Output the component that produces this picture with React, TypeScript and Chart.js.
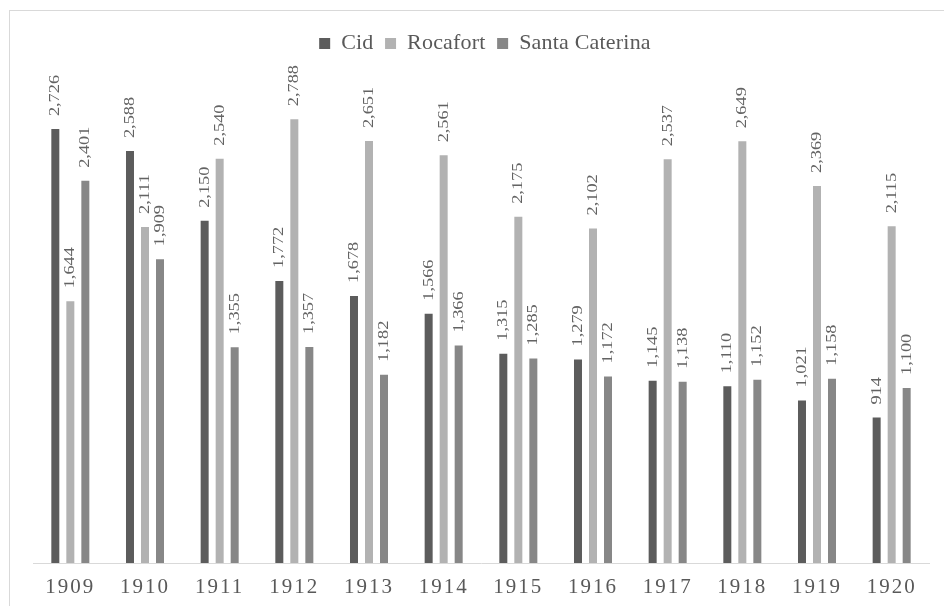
import React, { useEffect, useRef } from "react";
import { Chart, registerables } from "chart.js";

Chart.register(...registerables);

const years = ["1909", "1910", "1911", "1912", "1913", "1914", "1915", "1916", "1917", "1918", "1919", "1920"];
const cid = [2726, 2588, 2150, 1772, 1678, 1566, 1315, 1279, 1145, 1110, 1021, 914];
const rocafort = [1644, 2111, 2540, 2788, 2651, 2561, 2175, 2102, 2537, 2649, 2369, 2115];
const santaCaterina = [2401, 1909, 1355, 1357, 1182, 1366, 1285, 1172, 1138, 1152, 1158, 1100];
const seriesNames = ["Cid", "Rocafort", "Santa Caterina"];
const seriesColors = ["#5c5c5c", "#b2b2b2", "#878787"];

const FONT = '"Liberation Serif", "Times New Roman", serif';

const barLabels = {
  id: "barLabels",
  beforeInit(chart: any) {
    const legend = chart.legend;
    if (legend) {
      const orig = legend.fit.bind(legend);
      legend.fit = function () {
        orig();
        this.height += 21;
      };
    }
  },
  afterLayout(chart: any) {
    if (chart.legend) {
      chart.legend.left += 4;
      chart.legend.right += 4;
    }
  },
  beforeUpdate(chart: any) {
    chart.ctx.letterSpacing = "0.2px";
  },
  beforeDraw(chart: any) {
    chart.ctx.letterSpacing = "0.2px";
  },
  afterDatasetsDraw(chart: any) {
    const ctx = chart.ctx;
    chart.data.datasets.forEach((ds: any, i: number) => {
      const meta = chart.getDatasetMeta(i);
      meta.data.forEach((bar: any, j: number) => {
        const v = ds.data[j];
        ctx.save();
        ctx.translate(bar.x, bar.y - 13);
        ctx.rotate(-Math.PI / 2);
        ctx.scale(1.22, 1);
        ctx.font = `15px ${FONT}`;
        ctx.letterSpacing = "0px";
        ctx.fillStyle = "#636363";
        ctx.textAlign = "left";
        ctx.textBaseline = "middle";
        ctx.fillText(v.toLocaleString("en-US"), 0, 0);
        ctx.restore();
      });
    });
    ctx.letterSpacing = "2px";
  },
};

export default function App() {
  const ref = useRef<HTMLCanvasElement>(null);
  useEffect(() => {
    if (!ref.current) return;
    const chart = new Chart(ref.current, {
      type: "bar",
      data: {
        labels: years,
        datasets: [cid, rocafort, santaCaterina].map((d, i) => ({
          label: seriesNames[i],
          data: d,
          backgroundColor: seriesColors[i],
          borderWidth: 0,
          categoryPercentage: 0.603,
          barPercentage: 0.533,
        })),
      },
      options: {
        animation: false,
        responsive: false,
        maintainAspectRatio: false,
        layout: { padding: { left: 33, right: 15, top: 21, bottom: 0 } },
        plugins: {
          legend: {
            position: "top",
            align: "center",
            labels: {
              boxWidth: 11,
              boxHeight: 11,
              padding: 11.5,
              color: "#595959",
              font: { family: FONT, size: 22 },
            },
          },
          tooltip: { enabled: false },
        },
        scales: {
          x: {
            grid: { display: false, drawTicks: false },
            border: { display: true, color: "#d9d9d9", width: 1 },
            ticks: {
              z: 1,
              color: "#595959",
              font: { family: FONT, size: 21 },
              padding: 12,
              maxRotation: 0,
              autoSkip: false,
            },
            afterFit(scale: any) {
              scale.height = 43;
            },
          },
          y: {
            display: false,
            min: 0,
            max: 3000,
          },
        },
      },
      plugins: [barLabels],
    });
    return () => chart.destroy();
  }, []);

  return (
    <div
      style={{
        position: "fixed",
        left: 0,
        top: 0,
        width: 944,
        height: 606,
        overflow: "hidden",
        background: "#fff",
      }}
    >
      <div
        style={{
          position: "absolute",
          left: 9,
          top: 10,
          width: 960,
          height: 620,
          border: "1px solid #d9d9d9",
        }}
      />
      <canvas ref={ref} width={944} height={606} style={{ position: "absolute", left: 0, top: 0 }} />
    </div>
  );
}
